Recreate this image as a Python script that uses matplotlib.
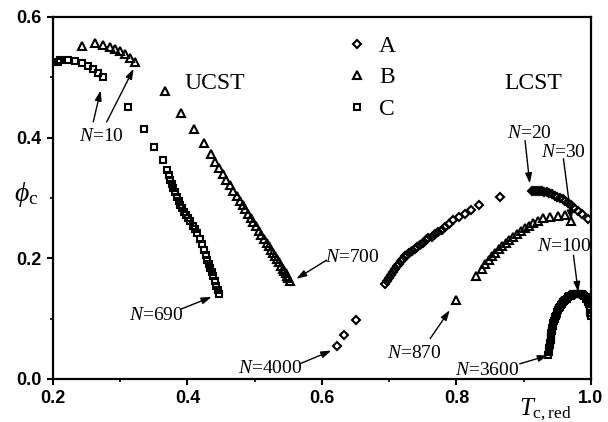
import matplotlib.pyplot as plt
from matplotlib.ticker import MultipleLocator

plt.rcParams['font.family'] = ['Liberation Serif', 'DejaVu Serif']
plt.rcParams['mathtext.fontset'] = 'custom'
plt.rcParams['mathtext.rm'] = 'Liberation Serif'
plt.rcParams['mathtext.it'] = 'Liberation Serif:italic'

# 시리즈 A (diamond)
a_x = [0.622, 0.633, 0.650, 0.694, 0.697, 0.700, 0.703, 0.706, 0.709, 0.712, 0.715, 0.718,
       0.721, 0.724, 0.727, 0.730, 0.734, 0.738, 0.742, 0.746, 0.750, 0.754, 0.758, 0.763,
       0.768, 0.773, 0.778, 0.783, 0.789, 0.795, 0.804, 0.813, 0.822, 0.833, 0.865, 0.912,
       0.915, 0.918, 0.921, 0.924, 0.927, 0.930, 0.934, 0.938, 0.942, 0.946, 0.950, 0.954,
       0.958, 0.962, 0.966, 0.970, 0.975, 0.980, 0.986, 0.996]
a_y = [0.054, 0.073, 0.098, 0.158, 0.163, 0.168, 0.173, 0.178, 0.183, 0.187, 0.191, 0.195,
       0.199, 0.203, 0.206, 0.208, 0.212, 0.215, 0.219, 0.222, 0.226, 0.230, 0.233, 0.236,
       0.240, 0.243, 0.247, 0.252, 0.257, 0.263, 0.268, 0.274, 0.280, 0.288, 0.301, 0.311,
       0.312, 0.312, 0.312, 0.311, 0.311, 0.310, 0.309, 0.308, 0.306, 0.304, 0.302, 0.300,
       0.298, 0.295, 0.292, 0.289, 0.284, 0.279, 0.273, 0.265]

# 시리즈 B (triangle): UCST branch + LCST branch
b_x = [0.243, 0.262, 0.275, 0.285, 0.292, 0.300, 0.307, 0.315, 0.322,
       0.366, 0.391, 0.410, 0.424, 0.435, 0.441, 0.447, 0.453, 0.458, 0.463, 0.468, 0.473,
       0.478, 0.482, 0.486, 0.490, 0.494, 0.498, 0.502, 0.506, 0.510, 0.514, 0.518, 0.521,
       0.524, 0.527, 0.530, 0.533, 0.536, 0.539, 0.542, 0.544, 0.546, 0.548, 0.550, 0.552,
       0.800, 0.829, 0.838, 0.843, 0.848, 0.853, 0.858, 0.863, 0.868, 0.873, 0.878, 0.884,
       0.890, 0.896, 0.902, 0.908, 0.914, 0.921, 0.929, 0.939, 0.951, 0.961, 0.971]
b_y = [0.552, 0.556, 0.554, 0.550, 0.547, 0.543, 0.539, 0.532, 0.526,
       0.478, 0.440, 0.414, 0.391, 0.373, 0.360, 0.349, 0.339, 0.330, 0.321, 0.312, 0.303,
       0.295, 0.288, 0.281, 0.274, 0.267, 0.260, 0.253, 0.246, 0.239, 0.232, 0.225, 0.220,
       0.214, 0.209, 0.203, 0.198, 0.193, 0.188, 0.183, 0.179, 0.175, 0.171, 0.167, 0.163,
       0.131, 0.170, 0.183, 0.190, 0.197, 0.203, 0.209, 0.215, 0.220, 0.225, 0.230, 0.236,
       0.241, 0.246, 0.250, 0.254, 0.258, 0.262, 0.266, 0.269, 0.270, 0.271, 0.261]

# 시리즈 C (square): UCST branch + LCST branch (LCST 쪽은 점이 빽빽함)
c_x = [0.208, 0.210, 0.223, 0.233, 0.243, 0.252, 0.260, 0.267, 0.274,
       0.312, 0.336, 0.351, 0.363, 0.369, 0.372, 0.374, 0.377, 0.379, 0.382, 0.384, 0.387,
       0.389, 0.392, 0.395, 0.398, 0.401, 0.404, 0.408, 0.411, 0.414, 0.418, 0.421, 0.424,
       0.427, 0.429, 0.432, 0.434, 0.436, 0.438, 0.441, 0.443, 0.445, 0.447,
       0.936, 0.937, 0.938, 0.938, 0.939, 0.939, 0.940, 0.940, 0.941, 0.941, 0.942, 0.942,
       0.943, 0.944, 0.945, 0.946, 0.947, 0.948, 0.949, 0.950, 0.951, 0.952, 0.954, 0.955,
       0.957, 0.958, 0.960, 0.962, 0.964, 0.966, 0.968, 0.970, 0.972, 0.974, 0.976, 0.978,
       0.980, 0.982, 0.984, 0.986, 0.988, 0.990, 0.992, 0.993, 0.995, 0.996, 0.997, 0.998,
       0.999, 0.999, 1.000]
c_y = [0.525, 0.528, 0.529, 0.527, 0.523, 0.518, 0.513, 0.507, 0.500,
       0.450, 0.414, 0.385, 0.363, 0.347, 0.338, 0.330, 0.323, 0.316, 0.309, 0.302, 0.295,
       0.289, 0.283, 0.277, 0.271, 0.266, 0.261, 0.254, 0.248, 0.242, 0.232, 0.223, 0.214,
       0.205, 0.197, 0.190, 0.184, 0.177, 0.170, 0.162, 0.154, 0.148, 0.141,
       0.040, 0.044, 0.048, 0.052, 0.056, 0.060, 0.064, 0.068, 0.072, 0.076, 0.080, 0.084,
       0.088, 0.092, 0.096, 0.099, 0.102, 0.105, 0.108, 0.111, 0.114, 0.117, 0.120, 0.122,
       0.125, 0.127, 0.129, 0.131, 0.133, 0.135, 0.137, 0.138, 0.139, 0.140, 0.141, 0.141,
       0.141, 0.141, 0.141, 0.140, 0.139, 0.137, 0.135, 0.133, 0.130, 0.127, 0.124, 0.120,
       0.116, 0.110, 0.104]

# 주석: (라벨, 라벨 위치, [(화살표 시작점, 화살표 끝점)])
notes = [
    ('$N$=10', (0.272, 0.401), [((0.260, 0.426), (0.271, 0.478)), ((0.280, 0.426), (0.320, 0.514))]),
    ('$N$=690', (0.354, 0.105), [((0.391, 0.116), (0.436, 0.136))]),
    ('$N$=700', (0.645, 0.202), [((0.607, 0.197), (0.562, 0.166))]),
    ('$N$=4000', (0.523, 0.017), [((0.567, 0.025), (0.614, 0.047))]),
    ('$N$=20', (0.909, 0.407), [((0.902, 0.395), (0.909, 0.324))]),
    ('$N$=30', (0.959, 0.376), [((0.959, 0.365), (0.971, 0.263))]),
    ('$N$=100', (0.961, 0.219), [((0.974, 0.205), (0.981, 0.144))]),
    ('$N$=870', (0.738, 0.042), [((0.761, 0.067), (0.790, 0.114))]),
    ('$N$=3600', (0.845, 0.014), [((0.894, 0.025), (0.936, 0.039))]),
]

fig = plt.figure(figsize=(6.08, 4.22), dpi=100)
ax = fig.add_axes([0.087, 0.102, 0.885, 0.858])

mk = dict(linestyle='none', markerfacecolor='none', markeredgecolor='black', markeredgewidth=1.5)
ax.plot(a_x, a_y, marker='D', markersize=4.3, label='A', **mk)
ax.plot(b_x, b_y, marker='^', markersize=5.5, label='B', **mk)
ax.plot(c_x, c_y, marker='s', markersize=5, label='C', **mk)

for label, pos, arrows in notes:
    ax.text(pos[0], pos[1], label, ha='center', va='center', fontsize=14)
    for tail, tip in arrows:
        ax.annotate('', xy=tip, xytext=tail,
                    arrowprops=dict(arrowstyle='-|>,head_length=0.6,head_width=0.2',
                                    color='black', lw=1, shrinkA=0, shrinkB=0))

ax.text(0.441, 0.490, 'UCST', ha='center', va='center', fontsize=17)
ax.text(0.914, 0.490, 'LCST', ha='center', va='center', fontsize=17)

ax.legend(loc='upper left', bbox_to_anchor=(0.525, 0.975), frameon=False, fontsize=17,
          handlelength=1.0, handletextpad=0.45, labelspacing=0.42, borderaxespad=0)

ax.set_xlim(0.2, 1.0)
ax.set_ylim(0.0, 0.6)
ax.xaxis.set_major_locator(MultipleLocator(0.2))
ax.xaxis.set_minor_locator(MultipleLocator(0.1))
ax.yaxis.set_major_locator(MultipleLocator(0.2))
ax.yaxis.set_minor_locator(MultipleLocator(0.1))
ax.tick_params(which='major', direction='out', length=4, width=1.5, pad=4)
ax.tick_params(which='minor', direction='out', length=2, width=1.2)
for t in ax.get_xticklabels() + ax.get_yticklabels():
    t.set_family('Liberation Sans')
    t.set_fontweight('bold')
    t.set_fontsize(13)
for s in ax.spines.values():
    s.set_linewidth(1.6)

ax.set_xlabel(r'$T_{\mathrm{c,red}}$', fontsize=18, labelpad=0)
ax.xaxis.set_label_coords(0.916, -0.048)
ax.set_ylabel(r'$\phi_{\mathrm{c}}$', fontsize=20, rotation=0, labelpad=0)
ax.yaxis.set_label_coords(-0.05, 0.47)

plt.savefig('out.png', dpi=100)
